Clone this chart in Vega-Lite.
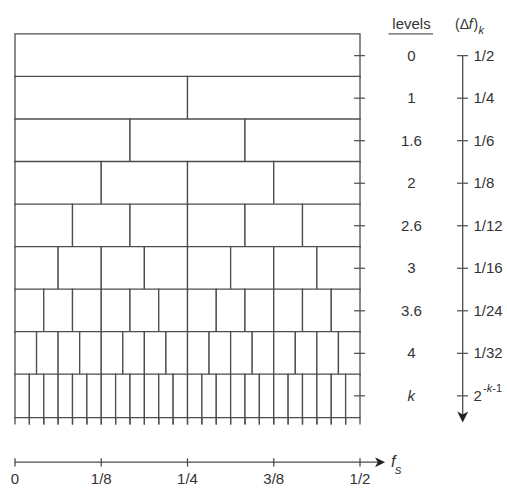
{
"$schema": "https://vega.github.io/schema/vega-lite/v6.json",
"width": 507, "height": 491,
"autosize": {"type": "none"},
"padding": 0,
"background": "white",
"config": {"view": {"stroke": null}, "text": {"font": "Liberation Sans", "fontSize": 15, "fill": "#333333"}},
"datasets": {
"boxes": [
{"r":0,"a":0,"b":0.5},
{"r":1,"a":0,"b":0.25},{"r":1,"a":0.25,"b":0.5},
{"r":2,"a":0,"b":0.166667},{"r":2,"a":0.166667,"b":0.333333},{"r":2,"a":0.333333,"b":0.5},
{"r":3,"a":0,"b":0.125},{"r":3,"a":0.125,"b":0.25},{"r":3,"a":0.25,"b":0.375},{"r":3,"a":0.375,"b":0.5},
{"r":4,"a":0,"b":0.083333},{"r":4,"a":0.083333,"b":0.166667},{"r":4,"a":0.166667,"b":0.25},{"r":4,"a":0.25,"b":0.333333},{"r":4,"a":0.333333,"b":0.416667},{"r":4,"a":0.416667,"b":0.5},
{"r":5,"a":0,"b":0.0625},{"r":5,"a":0.0625,"b":0.125},{"r":5,"a":0.125,"b":0.1875},{"r":5,"a":0.1875,"b":0.25},{"r":5,"a":0.25,"b":0.3125},{"r":5,"a":0.3125,"b":0.375},{"r":5,"a":0.375,"b":0.4375},{"r":5,"a":0.4375,"b":0.5},
{"r":6,"a":0,"b":0.041667},{"r":6,"a":0.041667,"b":0.083333},{"r":6,"a":0.083333,"b":0.125},{"r":6,"a":0.125,"b":0.166667},{"r":6,"a":0.166667,"b":0.208333},{"r":6,"a":0.208333,"b":0.25},{"r":6,"a":0.25,"b":0.291667},{"r":6,"a":0.291667,"b":0.333333},{"r":6,"a":0.333333,"b":0.375},{"r":6,"a":0.375,"b":0.416667},{"r":6,"a":0.416667,"b":0.458333},{"r":6,"a":0.458333,"b":0.5},
{"r":7,"a":0,"b":0.03125},{"r":7,"a":0.03125,"b":0.0625},{"r":7,"a":0.0625,"b":0.09375},{"r":7,"a":0.09375,"b":0.125},{"r":7,"a":0.125,"b":0.15625},{"r":7,"a":0.15625,"b":0.1875},{"r":7,"a":0.1875,"b":0.21875},{"r":7,"a":0.21875,"b":0.25},{"r":7,"a":0.25,"b":0.28125},{"r":7,"a":0.28125,"b":0.3125},{"r":7,"a":0.3125,"b":0.34375},{"r":7,"a":0.34375,"b":0.375},{"r":7,"a":0.375,"b":0.40625},{"r":7,"a":0.40625,"b":0.4375},{"r":7,"a":0.4375,"b":0.46875},{"r":7,"a":0.46875,"b":0.5},
{"r":8,"a":0,"b":0.020833},{"r":8,"a":0.020833,"b":0.041667},{"r":8,"a":0.041667,"b":0.0625},{"r":8,"a":0.0625,"b":0.083333},{"r":8,"a":0.083333,"b":0.104167},{"r":8,"a":0.104167,"b":0.125},{"r":8,"a":0.125,"b":0.145833},{"r":8,"a":0.145833,"b":0.166667},{"r":8,"a":0.166667,"b":0.1875},{"r":8,"a":0.1875,"b":0.208333},{"r":8,"a":0.208333,"b":0.229167},{"r":8,"a":0.229167,"b":0.25},{"r":8,"a":0.25,"b":0.270833},{"r":8,"a":0.270833,"b":0.291667},{"r":8,"a":0.291667,"b":0.3125},{"r":8,"a":0.3125,"b":0.333333},{"r":8,"a":0.333333,"b":0.354167},{"r":8,"a":0.354167,"b":0.375},{"r":8,"a":0.375,"b":0.395833},{"r":8,"a":0.395833,"b":0.416667},{"r":8,"a":0.416667,"b":0.4375},{"r":8,"a":0.4375,"b":0.458333},{"r":8,"a":0.458333,"b":0.479167},{"r":8,"a":0.479167,"b":0.5}
],
"levels": [
{"r":0,"lv":"0","df":"1/2"},{"r":1,"lv":"1","df":"1/4"},{"r":2,"lv":"1.6","df":"1/6"},{"r":3,"lv":"2","df":"1/8"},{"r":4,"lv":"2.6","df":"1/12"},{"r":5,"lv":"3","df":"1/16"},{"r":6,"lv":"3.6","df":"1/24"},{"r":7,"lv":"4","df":"1/32"},{"r":8,"lv":"k","df":"2^-k-1"}
],
"fticks": [
{"f":0,"label":"0"},{"f":0.125,"label":"1/8"},{"f":0.25,"label":"1/4"},{"f":0.375,"label":"3/8"},{"f":0.5,"label":"1/2"}
],
"one": [{}]
},
"layer": [
{"data": {"name": "boxes"},
 "mark": {"type": "bar", "height": 43.41, "fill": "white", "stroke": "#4d4d4d", "strokeWidth": 1.3},
 "encoding": {
  "x": {"field": "a", "type": "quantitative", "scale": {"domain": [-0.021739, 0.713043], "nice": false, "zero": false}, "axis": null},
  "x2": {"field": "b"},
  "y": {"field": "r", "type": "quantitative", "scale": {"domain": [-1.191, 10.12], "nice": false, "zero": false, "reverse": true}, "axis": null}
 }},
{"data": {"name": "boxes"}, "transform": [{"filter": "datum.r == 8"}],
 "mark": {"type": "rule", "stroke": "#4d4d4d", "strokeWidth": 1.3},
 "encoding": {"x": {"field": "a", "type": "quantitative"}, "y": {"datum": 8.5}, "y2": {"datum": 8.675}}},
{"data": {"name": "boxes"}, "transform": [{"filter": "datum.r == 8"}],
 "mark": {"type": "rule", "stroke": "#4d4d4d", "strokeWidth": 1.3},
 "encoding": {"x": {"field": "b", "type": "quantitative"}, "y": {"datum": 8.5}, "y2": {"datum": 8.675}}},
{"data": {"name": "levels"},
 "mark": {"type": "rule", "stroke": "#4d4d4d", "strokeWidth": 1.2},
 "encoding": {"x": {"datum": 0.4913}, "x2": {"datum": 0.50725}, "y": {"field": "r", "type": "quantitative"}}},
{"data": {"name": "levels"}, "transform": [{"filter": "datum.r < 8"}],
 "mark": {"type": "text", "align": "center", "baseline": "middle"},
 "encoding": {"x": {"datum": 0.57435}, "y": {"field": "r", "type": "quantitative"}, "text": {"field": "lv"}}},
{"data": {"name": "levels"}, "transform": [{"filter": "datum.r == 8"}],
 "mark": {"type": "text", "align": "center", "baseline": "middle", "fontStyle": "italic"},
 "encoding": {"x": {"datum": 0.57435}, "y": {"field": "r", "type": "quantitative"}, "text": {"field": "lv"}}},
{"data": {"name": "one"},
 "mark": {"type": "text", "align": "center", "baseline": "alphabetic", "text": "levels"},
 "encoding": {"x": {"datum": 0.5746}, "y": {"datum": -0.615}}},
{"data": {"name": "one"},
 "mark": {"type": "rule", "stroke": "#333333", "strokeWidth": 1},
 "encoding": {"x": {"datum": 0.5413}, "x2": {"datum": 0.6058}, "y": {"datum": -0.511}}},
{"data": {"name": "one"},
 "mark": {"type": "text", "align": "left", "baseline": "alphabetic", "text": "(Δ", "fontSize": 14},
 "encoding": {"x": {"datum": 0.63768}, "y": {"datum": -0.615}}},
{"data": {"name": "one"},
 "mark": {"type": "text", "align": "left", "baseline": "alphabetic", "text": "f", "fontSize": 14, "fontStyle": "italic"},
 "encoding": {"x": {"datum": 0.6577}, "y": {"datum": -0.615}}},
{"data": {"name": "one"},
 "mark": {"type": "text", "align": "left", "baseline": "alphabetic", "text": ")", "fontSize": 14},
 "encoding": {"x": {"datum": 0.6645}, "y": {"datum": -0.615}}},
{"data": {"name": "one"},
 "mark": {"type": "text", "align": "left", "baseline": "alphabetic", "text": "k", "fontSize": 11, "fontStyle": "italic"},
 "encoding": {"x": {"datum": 0.6717}, "y": {"datum": -0.52}}},
{"data": {"name": "one"},
 "mark": {"type": "rule", "stroke": "#4d4d4d", "strokeWidth": 1.3},
 "encoding": {"x": {"datum": 0.64884}, "y": {"datum": 0}, "y2": {"datum": 8.45}}},
{"data": {"name": "levels"},
 "mark": {"type": "rule", "stroke": "#4d4d4d", "strokeWidth": 1.2},
 "encoding": {"x": {"datum": 0.64058}, "x2": {"datum": 0.65652}, "y": {"field": "r", "type": "quantitative"}}},
{"data": {"name": "levels"}, "transform": [{"filter": "datum.r < 8"}],
 "mark": {"type": "text", "align": "left", "baseline": "middle"},
 "encoding": {"x": {"datum": 0.66449}, "y": {"field": "r", "type": "quantitative"}, "text": {"field": "df"}}},
{"data": {"name": "one"},
 "mark": {"type": "text", "align": "left", "baseline": "middle", "text": "2"},
 "encoding": {"x": {"datum": 0.66449}, "y": {"datum": 8}}},
{"data": {"name": "one"},
 "mark": {"type": "text", "align": "left", "baseline": "alphabetic", "text": "-", "fontSize": 11},
 "encoding": {"x": {"datum": 0.6783}, "y": {"datum": 7.908}}},
{"data": {"name": "one"},
 "mark": {"type": "text", "align": "left", "baseline": "alphabetic", "text": "k", "fontSize": 11, "fontStyle": "italic"},
 "encoding": {"x": {"datum": 0.6836}, "y": {"datum": 7.908}}},
{"data": {"name": "one"},
 "mark": {"type": "text", "align": "left", "baseline": "alphabetic", "text": "-1", "fontSize": 11},
 "encoding": {"x": {"datum": 0.6917}, "y": {"datum": 7.908}}},
{"data": {"name": "one"},
 "mark": {"type": "point", "shape": "M-1,-1L0,1L1,-1L0,-0.45Z", "size": 121, "filled": true, "fill": "#222222", "opacity": 1, "strokeWidth": 0},
 "encoding": {"x": {"datum": 0.64884}, "y": {"datum": 8.496}}},
{"data": {"name": "one"},
 "mark": {"type": "rule", "stroke": "#4d4d4d", "strokeWidth": 1.3},
 "encoding": {"x": {"datum": 0}, "x2": {"datum": 0.527}, "y": {"datum": 9.56}}},
{"data": {"name": "fticks"},
 "mark": {"type": "rule", "stroke": "#4d4d4d", "strokeWidth": 1.3},
 "encoding": {"x": {"field": "f", "type": "quantitative"}, "y": {"datum": 9.468}, "y2": {"datum": 9.664}}},
{"data": {"name": "fticks"},
 "mark": {"type": "text", "align": "center", "baseline": "alphabetic"},
 "encoding": {"x": {"field": "f", "type": "quantitative"}, "y": {"datum": 10.074}, "text": {"field": "label"}}},
{"data": {"name": "one"},
 "mark": {"type": "point", "shape": "M-1,-1L1,0L-1,1L-0.45,0Z", "size": 100, "filled": true, "fill": "#222222", "opacity": 1, "strokeWidth": 0},
 "encoding": {"x": {"datum": 0.529}, "y": {"datum": 9.56}}},
{"data": {"name": "one"},
 "mark": {"type": "text", "align": "left", "baseline": "alphabetic", "text": "f", "fontSize": 16, "fontStyle": "italic"},
 "encoding": {"x": {"datum": 0.5449}, "y": {"datum": 9.682}}},
{"data": {"name": "one"},
 "mark": {"type": "text", "align": "left", "baseline": "alphabetic", "text": "s", "fontSize": 13, "fontStyle": "italic"},
 "encoding": {"x": {"datum": 0.5509}, "y": {"datum": 9.843}}}
]
}
